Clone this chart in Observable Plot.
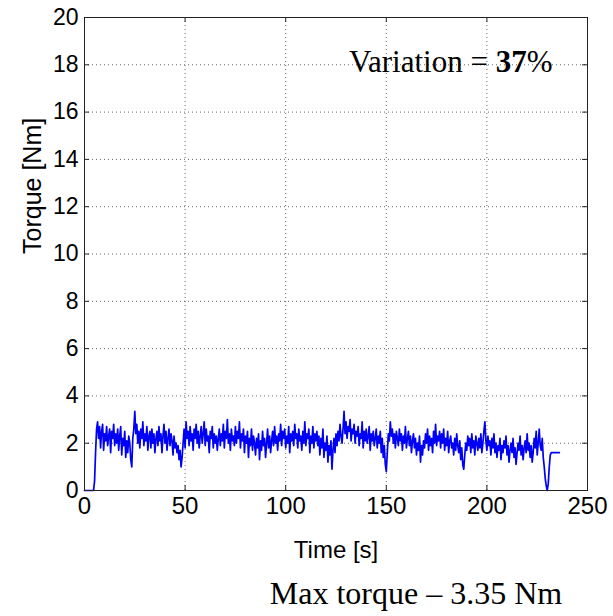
<!DOCTYPE html>
<html><head><meta charset="utf-8">
<script src="https://cdn.jsdelivr.net/npm/d3@7"></script>
<script src="https://cdn.jsdelivr.net/npm/@observablehq/plot@0.6"></script>
<style>body{margin:0;background:#fff}</style>
</head><body><div id="chart"></div>
<script>
// sampling interval of the recorded torque, seconds
const sampleStep = 0.5;
// t = 0 .. 5.5 s (motor start)
const startupTorque = [0,0,0,0,0,0,0,0,0,0,0.4,1.6];
// t = 6 .. 228 s (steady run), Nm
const runTorque = [
2.6,2.9,2.2,2.7,1.8,2.5,2.8,1.7,2.4,2.1,2.7,1.9,2.3,2.6,1.6,2.5,2.2,2.8,1.9,2.4,
2.0,2.6,1.7,2.3,2.7,1.5,2.2,1.9,2.5,1.4,2.1,1.6,2.3,2.0,1.3,1.0,2.2,2.6,3.35,2.4,
2.8,2.0,2.5,1.8,2.6,2.2,2.9,1.9,2.4,2.1,2.7,1.7,2.3,2.5,1.8,2.6,2.0,2.4,1.6,2.2,
2.5,1.9,2.7,2.1,2.4,1.6,2.3,2.8,2.0,2.5,1.7,2.2,2.6,1.9,2.4,2.1,1.5,2.3,1.8,2.0,
1.6,1.9,1.3,1.7,1.0,1.4,2.0,2.6,1.8,2.9,2.2,2.5,1.9,2.7,2.1,2.4,1.7,2.6,2.2,2.8,
2.0,2.5,1.8,2.3,2.7,2.0,2.4,2.9,1.9,2.6,2.1,2.3,1.6,2.5,2.2,2.7,1.8,2.4,2.0,2.3,
1.7,2.2,2.6,1.9,2.4,2.1,2.8,1.8,2.5,2.2,3.0,2.0,2.4,1.7,2.6,2.1,2.3,1.9,2.7,2.0,
2.5,2.2,2.9,1.8,2.4,2.1,2.6,1.6,2.3,2.0,2.5,1.4,2.2,1.9,2.6,1.7,2.3,2.0,1.5,2.2,
1.8,2.4,1.3,2.1,1.7,2.5,1.9,2.2,1.4,2.0,2.6,1.8,2.3,1.6,2.1,2.5,1.9,2.7,2.0,2.3,
1.7,2.4,2.1,2.8,1.9,2.5,2.2,2.6,1.8,2.3,2.0,2.7,1.6,2.4,2.1,2.5,1.9,2.8,2.2,2.4,
1.8,2.6,2.1,2.3,1.7,2.5,2.0,2.9,1.9,2.4,2.2,2.6,1.6,2.3,2.0,2.7,1.8,2.4,2.1,2.5,
1.9,2.3,1.5,2.2,1.8,2.6,1.4,2.0,1.7,2.3,1.2,1.9,1.5,2.1,0.9,1.7,2.2,1.6,2.4,1.9,
2.5,2.1,2.8,2.3,2.0,2.6,3.35,2.4,2.9,2.2,2.7,2.5,3.0,2.1,2.6,2.4,2.8,2.0,2.5,2.3,
2.7,1.9,2.4,2.2,2.9,1.8,2.5,2.1,2.6,2.0,2.3,2.7,1.7,2.4,2.1,2.5,1.9,2.2,2.6,1.8,
2.3,2.0,2.5,1.6,2.2,1.4,1.9,1.1,0.8,1.6,2.4,2.1,2.9,2.3,2.6,2.0,2.4,1.8,2.5,2.2,
1.9,2.6,2.1,2.4,1.7,2.3,2.0,2.7,1.8,2.2,2.5,1.9,2.3,1.6,2.1,2.4,1.8,2.2,1.5,2.0,
1.7,2.3,1.2,1.9,1.5,2.1,1.8,2.4,2.0,2.6,1.7,2.3,1.9,2.2,1.6,2.5,2.0,2.8,1.9,2.3,
2.1,2.5,1.8,2.4,2.0,2.6,1.7,2.2,1.9,2.5,1.6,2.1,2.3,1.8,2.0,1.5,2.2,1.7,2.4,1.9,
1.6,2.1,1.3,1.8,1.1,0.9,1.5,2.0,1.7,2.3,1.9,2.2,1.6,2.4,1.8,2.1,1.5,2.3,2.0,1.7,
2.2,1.8,2.4,1.6,2.0,2.5,2.9,2.1,1.7,2.3,1.9,2.1,1.5,2.2,1.8,2.4,1.6,2.0,1.4,1.9,
1.7,2.2,1.3,1.9,1.6,2.1,1.8,2.3,1.5,1.9,1.2,1.7,2.0,1.6,2.2,1.4,1.8,1.1,1.6,2.0,
1.7,2.3,1.5,1.9,1.3,1.8,2.1,1.6,2.4,1.7,2.0,1.4,1.9,1.2,1.6,2.2,1.8,2.5,1.5,2.0,
2.6,1.9,1.7,2.2
];
// t = 228 .. 236 s (stop)
const stopTorque = [1.4,1.0,0.5,0.2,0.0,0.3,1.0,1.5,1.6,1.6,1.6,1.6,1.6,1.6,1.6,1.6,1.6];

const xTicks = [0, 50, 100, 150, 200, 250];
const yTicks = [0, 2, 4, 6, 8, 10, 12, 14, 16, 18, 20];
const xLabel = "Time [s]";
const yLabel = "Torque [Nm]";
const annotation = "Variation = 37%";
const caption = "Max torque – 3.35 Nm";

const torque = [...startupTorque, ...runTorque, ...stopTorque];
const data = torque.map((v, i) => ({time: i * sampleStep, torque: v}));

const W = 613, H = 616, mL = 84, mR = 26, mT = 17, mB = 126;
const innerW = W - mL - mR, innerH = H - mT - mB;
const sans = "'Liberation Sans', Arial, Helvetica, sans-serif";
const serif = "'Liberation Serif', 'Times New Roman', serif";

const chart = Plot.plot({
  width: W, height: H,
  marginLeft: mL, marginRight: mR, marginTop: mT, marginBottom: mB,
  style: {fontFamily: sans, background: "white", color: "black"},
  x: {domain: [0, 250], ticks: xTicks},
  y: {domain: [0, 20], ticks: yTicks},
  marks: [
    Plot.gridX(xTicks, {stroke: "#000", strokeOpacity: 0.6, strokeDasharray: "1,3"}),
    Plot.gridY(yTicks, {stroke: "#000", strokeOpacity: 0.6, strokeDasharray: "1,3"}),
    Plot.line(data, {x: "time", y: "torque", stroke: "#0000f5", strokeWidth: 1.7, strokeLinejoin: "round"}),
    Plot.tickX(xTicks, {x: d => d, insetTop: innerH - 5, stroke: "#222"}),
    Plot.tickX(xTicks, {x: d => d, insetBottom: innerH - 5, stroke: "#222"}),
    Plot.tickY(yTicks, {y: d => d, insetRight: innerW - 5, stroke: "#222"}),
    Plot.tickY(yTicks, {y: d => d, insetLeft: innerW - 5, stroke: "#222"}),
    Plot.frame({stroke: "#222", strokeWidth: 1}),
    Plot.axisX(xTicks, {tickSize: 0, tickPadding: 6, fontSize: 24, label: null}),
    Plot.axisY(yTicks, {tickSize: 0, tickPadding: 6, fontSize: 23, label: null}),
    Plot.text([xLabel], {frameAnchor: "bottom", dy: 60, lineAnchor: "middle", fontSize: 24, fill: "black"}),
    Plot.text([yLabel], {frameAnchor: "left", dx: -52, rotate: -90, lineAnchor: "middle", fontSize: 25, fill: "black"}),
    Plot.text([annotation], {frameAnchor: "top-right", dx: -35, dy: 45, lineAnchor: "middle", textAnchor: "end", fontFamily: serif, fontSize: 31, fill: "black"}),
    Plot.text([caption], {frameAnchor: "bottom", dx: 80, dy: 103, lineAnchor: "middle", fontFamily: serif, fontSize: 32, fill: "black"})
  ]
});

// render "37" in bold inside the annotation, keeping it one real text element
d3.select(chart).selectAll("text").filter(function() { return this.textContent === annotation; })
  .each(function() {
    const el = d3.select(this);
    el.text(null);
    el.append("tspan").text("Variation = ");
    el.append("tspan").attr("font-weight", "bold").text("37");
    el.append("tspan").text("%");
  });

document.getElementById("chart").append(chart);
</script>
</body></html>
